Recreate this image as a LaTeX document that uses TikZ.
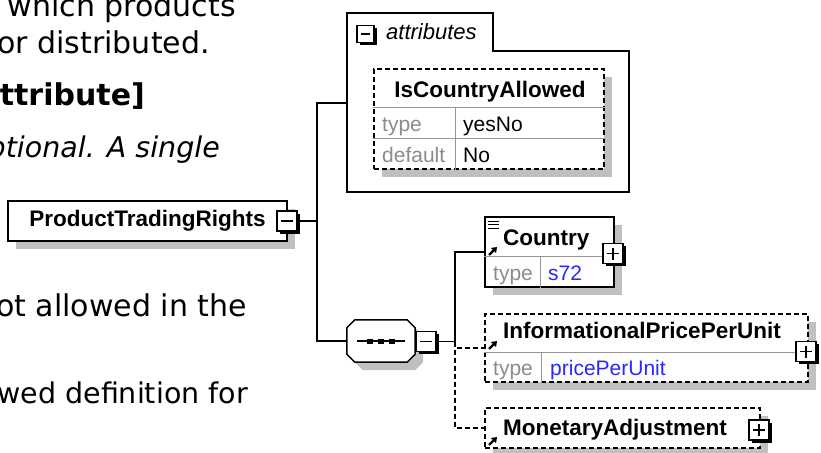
\documentclass[tikz,border=0pt]{standalone}
\usepackage{fontspec}
\setmainfont{Liberation Sans}
\newfontfamily\prosefont{DejaVu Sans}[ItalicFont={DejaVu Sans Oblique}, BoldFont={DejaVu Sans Bold}]
\usetikzlibrary{arrows.meta, shadows, calc}

\definecolor{shadowgray}{RGB}{192,192,192}
\definecolor{keygray}{RGB}{140,140,140}
\definecolor{sepgray}{RGB}{150,150,150}
\definecolor{typeblue}{RGB}{40,40,255}

\begin{document}
\begin{tikzpicture}[
        x=1pt, y=-1pt,
        conn/.style={line width=1.5pt, draw=black},
        optconn/.style={conn, dash pattern=on 5pt off 3pt},
        boxshadow/.style={drop shadow={shadow xshift=8pt, shadow yshift=-8pt, fill=shadowgray, opacity=1}},
        elembox/.style={rectangle, draw=black, line width=1.5pt, fill=white, inner sep=0pt, boxshadow},
        optbox/.style={elembox, dash pattern=on 5pt off 3pt},
        togglebox/.style={rectangle, draw=black, line width=1.3pt, fill=white, inner sep=0pt, minimum width=20pt, minimum height=20pt,
            drop shadow={shadow xshift=2.5pt, shadow yshift=-2.5pt, fill=black, opacity=1}},
        minus/.style={togglebox, path picture={
                \draw[line width=1.3pt] ($(path picture bounding box.west)+(4,0)$) -- ($(path picture bounding box.east)+(-4,0)$);}},
        plus/.style={togglebox, path picture={
                \draw[line width=1.3pt] ($(path picture bounding box.west)+(4,0)$) -- ($(path picture bounding box.east)+(-4,0)$);
                \draw[line width=1.3pt] ($(path picture bounding box.north)+(0,4)$) -- ($(path picture bounding box.south)+(0,-4)$);}},
        namelabel/.style={font=\fontsize{22.5}{27}\selectfont\bfseries, inner sep=0pt},
        keylabel/.style={font=\fontsize{21}{25}\selectfont, text=keygray, inner sep=0pt, anchor=base west},
        vallabel/.style={font=\fontsize{21}{25}\selectfont, inner sep=0pt, anchor=base west},
        sepline/.style={line width=1pt, draw=sepgray},
        refarrow/.style={-{Triangle[length=5pt, width=7pt]}, line width=2.2pt},
        prose/.style={font=\prosefont\fontsize{30}{36}\selectfont, inner sep=0pt, anchor=base east},
        prosebold/.style={prose, font=\prosefont\fontsize{30}{36}\selectfont\bfseries},
        proseit/.style={prose, font=\prosefont\fontsize{28.5}{34}\selectfont\itshape}
    ]
        \useasboundingbox (0,0) rectangle (821,452);
        \clip (0,0) rectangle (821,452);

        % Documentation text behind the diagram
        \node[prose] (prose1) at (236,17) {which products};
        \node[prose] (prose2) at (210,54) {or distributed.};
        \node[prosebold] (prose3) at (145,105) {attribute]};
        \node[proseit] (prose4) at (220,157) {ptional. A single};
        \node[prose] (prose5) at (247,316) {ot allowed in the};
        \node[prose, font=\prosefont\fontsize{28.5}{34}\selectfont] (prose6) at (248,403) {wed definition for};

        % Root element
        \node[elembox, namelabel, minimum width=279pt, minimum height=40pt] (root) at (147.5,221) {ProductTradingRights};
        \node[minus] (rootsw) at (287,221) {};

        % Attributes group
        \draw[conn, fill=white] (347,13) -- (493,13) -- (493,51) -- (629,51) -- (629,192) -- (347,192) -- cycle;
        \coordinate (attrsin) at (347,103);
        \node[minus, minimum width=17pt, minimum height=17pt] (attrsw) at (365.5,34) {};
        \node[font=\fontsize{22}{26}\selectfont\itshape, inner sep=0pt, anchor=base west] (attrslbl) at (386,40) {attributes};

        \node[optbox, minimum width=230pt, minimum height=100pt] (allowed) at (489,119) {};
        \draw[sepline] ($(allowed.north west)+(0,39)$) -- ($(allowed.north east)+(0,39)$);
        \draw[sepline] ($(allowed.north west)+(0,70)$) -- ($(allowed.north east)+(0,70)$);
        \draw[sepline] ($(allowed.north west)+(82,39)$) -- ($(allowed.south west)+(82,0)$);
        \node[namelabel, anchor=base] (allowedname) at (490,97) {IsCountryAllowed};
        \node[keylabel] (allowedtype) at (382,131) {type};
        \node[vallabel] (allowedtypeval) at (463,131) {yesNo};
        \node[keylabel] (alloweddef) at (382,162) {default};
        \node[vallabel] (alloweddefval) at (463,162) {No};

        % Sequence compositor
        \node[minimum width=68pt, minimum height=42pt, inner sep=0pt] (seq) at (381,341) {};
        \fill[shadowgray, transform canvas={xshift=8pt, yshift=-8pt}]
            ($(seq.north west)+(8,0)$) -- ($(seq.north east)+(-8,0)$) -- ($(seq.north east)+(0,8)$)
            -- ($(seq.south east)+(0,-8)$) -- ($(seq.south east)+(-8,0)$) -- ($(seq.south west)+(8,0)$)
            -- ($(seq.south west)+(0,-8)$) -- ($(seq.north west)+(0,8)$) -- cycle;
        \draw[conn, fill=white]
            ($(seq.north west)+(8,0)$) -- ($(seq.north east)+(-8,0)$) -- ($(seq.north east)+(0,8)$)
            -- ($(seq.south east)+(0,-8)$) -- ($(seq.south east)+(-8,0)$) -- ($(seq.south west)+(8,0)$)
            -- ($(seq.south west)+(0,-8)$) -- ($(seq.north west)+(0,8)$) -- cycle;
        \draw[line width=1.5pt] ($(seq.center)+(-24,0)$) -- ($(seq.center)+(24,0)$);
        \foreach \dx in {-11,0,11}
            \fill ($(seq.center)+(\dx,0)$) +(-3,-2.5) rectangle +(3,2.5);
        \node[minus] (seqsw) at (426,341.5) {};

        % Child elements
        \node[elembox, minimum width=129pt, minimum height=70pt] (country) at (549.5,252) {};
        \draw[sepline] ($(country.north west)+(0,40)$) -- ($(country.north east)+(0,40)$);
        \draw[sepline] ($(country.north west)+(56,40)$) -- ($(country.south west)+(56,0)$);
        \node[namelabel, anchor=base west] (countryname) at (503,245) {Country};
        \node[keylabel] (countrytype) at (493,280) {type};
        \node[vallabel, text=typeblue] (countrytypeval) at (548,280) {s72};
        \foreach \yy in {221,224.5,228}
            \draw[line width=1pt] (488,\yy) -- (499,\yy);
        \draw[refarrow] (489,255) -- (497,247);
        \node[plus] (countrysw) at (613,253.5) {};

        \node[optbox, minimum width=323pt, minimum height=68pt] (infoprice) at (646.5,348) {};
        \draw[sepline] ($(infoprice.north west)+(0,39)$) -- ($(infoprice.north east)+(0,39)$);
        \draw[sepline] ($(infoprice.north west)+(57,39)$) -- ($(infoprice.south west)+(57,0)$);
        \node[namelabel, anchor=base west] (infopricename) at (503,338) {InformationalPricePerUnit};
        \node[keylabel] (infopricetype) at (493,375) {type};
        \node[vallabel, text=typeblue] (infopricetypeval) at (550,375) {pricePerUnit};
        \draw[refarrow] (489,349) -- (497,341);
        \node[plus] (infosw) at (806,351.5) {};

        \node[optbox, minimum width=275pt, minimum height=40pt] (monetary) at (622.5,428) {};
        \node[namelabel, anchor=base west] (monetaryname) at (503,435) {MonetaryAdjustment};
        \draw[refarrow] (489,445) -- (497,437);
        \node[plus] (monetarysw) at (759,430) {};

        % Connectors
        \coordinate (spine) at (317,221);
        \coordinate (seqspine) at (455,341.5);
        \draw[conn] (rootsw.east) -- (spine);
        \draw[conn] (attrsin) -| (spine) |- (seq.west);
        \draw[optconn] (seqspine) |- (infoprice.west);
        \draw[optconn] (seqspine) |- (monetary.west);
        \draw[conn] (seqsw.east) -- (seqspine) |- (country.west);

    \end{tikzpicture}
\end{document}
